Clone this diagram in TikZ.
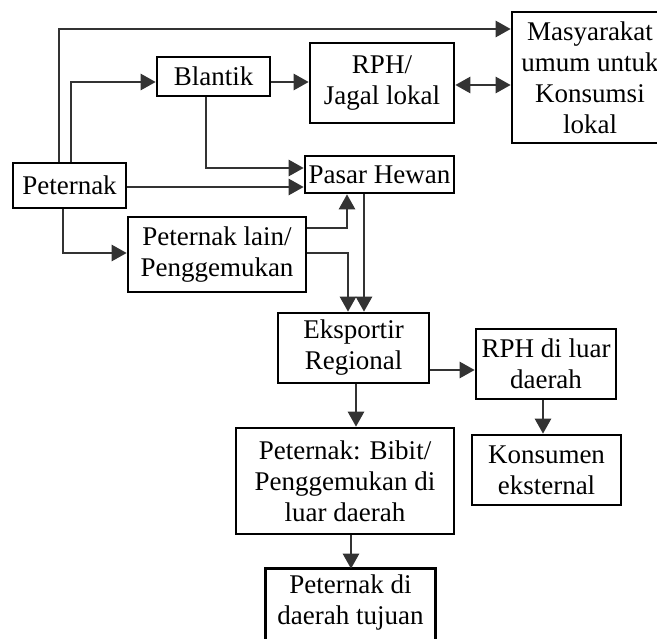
\documentclass[tikz,border=0pt]{standalone}
\usepackage{fontspec}
\setmainfont{Liberation Serif}
\usetikzlibrary{arrows.meta}
\begin{document}
\begin{tikzpicture}[x=1pt,y=-1pt,
  box/.style={draw=black,line width=2.6pt,inner sep=0pt,align=center,
    font=\fontsize{27}{31}\selectfont,text=black},
  openbox/.style={box,draw=none},
  side/.style={draw=black,line width=2.6pt},
  arr/.style={draw=black!80,line width=2.6pt,-{Triangle[length=15pt,width=16pt]}},
  darr/.style={draw=black!80,line width=2.6pt,{Triangle[length=15pt,width=16pt]}-{Triangle[length=15pt,width=16pt]}}]
\useasboundingbox (0,0) rectangle (657,639);
\node[box,minimum width=113pt,minimum height=45pt] (pet) at (69.5,185.5) {Peternak};
\node[box,minimum width=113pt,minimum height=39pt] (blan) at (213.5,76.5) {Blantik};
\node[box,minimum width=144pt,minimum height=80pt] (rph) at (382,83) {RPH/\\Jagal lokal};
\node[box,minimum width=156pt,minimum height=131pt] (mas) at (590,77.5) {Masyarakat\\umum untuk\\Konsumsi\\lokal};
\node[box,minimum width=149pt,minimum height=37pt] (pasar) at (379.5,174.5) {Pasar Hewan};
\node[box,minimum width=178pt,minimum height=75pt] (lain) at (217,254.5) {Peternak lain/\\Penggemukan};
\node[box,minimum width=151pt,minimum height=70pt] (eks) at (353.5,348) {Eksportir\\Regional};
\node[box,minimum width=140pt,minimum height=70pt] (rphl) at (546,364) {RPH di luar\\daerah};
\node[box,minimum width=149pt,minimum height=70pt] (kons) at (546.5,470) {Konsumen\\eksternal};
\node[box,minimum width=218pt,minimum height=106pt] (bibit) at (345,481) {Peternak: Bibit/\\Penggemukan di\\luar daerah};
\node[openbox,minimum width=167pt,minimum height=66pt] (tujuan) at (350.5,603) {Peternak di\\daerah tujuan};
\draw[side] ([yshift=-80pt]tujuan.north west) -- (tujuan.north west) -- (tujuan.north east) -- ++(0,80);
% connectors
\draw[arr] (pet.north -| 59,0) |- (mas.west |- 0,29);
\draw[arr] (pet.north -| 71,0) |- (blan.west |- 0,82);
\draw[arr] (blan.east |- 0,82) -- (rph.west |- 0,82);
\draw[darr] (rph.east |- 0,85) -- (mas.west |- 0,85);
\draw[arr] (blan.south -| 206,0) |- (pasar.west |- 0,168);
\draw[arr] (pet.east |- 0,187) -- (pasar.west |- 0,187);
\draw[arr] (pet.south -| 63,0) |- (lain.west |- 0,253);
\draw[arr] (lain.east |- 0,228) -| (pasar.south -| 347,0);
\draw[arr] (lain.east |- 0,253) -| (eks.north -| 348,0);
\draw[arr] (pasar.south -| 364,0) -- (eks.north -| 364,0);
\draw[arr] (eks.south -| 356,0) -- (bibit.north -| 356,0);
\draw[arr] (eks.east |- 0,370) -- (rphl.west |- 0,370);
\draw[arr] (rphl.south -| 543,0) -- (kons.north -| 543,0);
\draw[arr] (bibit.south -| 351,0) -- (tujuan.north -| 351,0);
\end{tikzpicture}
\end{document}
